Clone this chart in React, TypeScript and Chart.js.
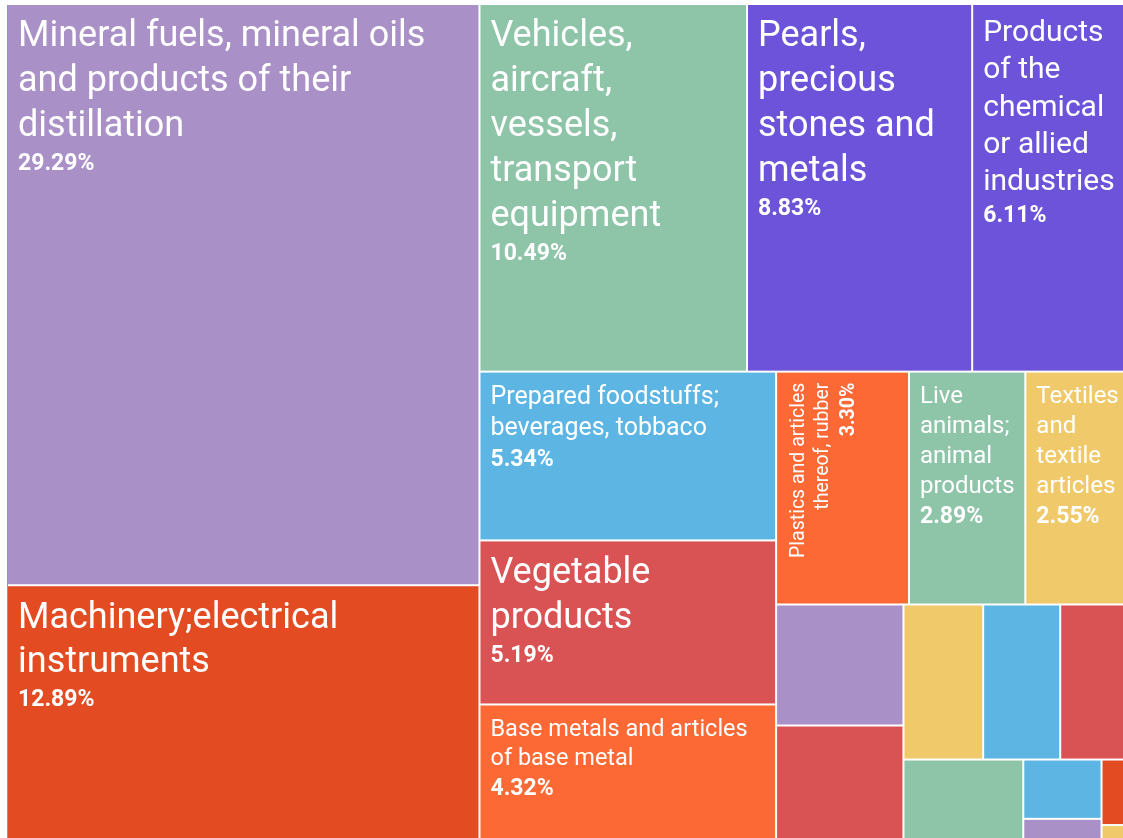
import { useEffect, useRef } from "react";
import { Chart, registerables } from "chart.js";

Chart.register(...registerables);

// ---------------- data ----------------
const categories: string[] = [
  "Mineral fuels, mineral oils and products of their distillation",
  "Machinery;electrical instruments",
  "Vehicles, aircraft, vessels, transport equipment",
  "Pearls, precious stones and metals",
  "Products of the chemical or allied industries",
  "Prepared foodstuffs; beverages, tobbaco",
  "Vegetable products",
  "Base metals and articles of base metal",
  "Plastics and articles thereof, rubber",
  "Live animals; animal products",
  "Textiles and textile articles",
  "Other 1",
  "Other 2",
  "Other 3",
  "Other 4",
  "Other 5",
  "Other 6",
  "Other 7",
  "Other 8",
  "Other 9",
  "Other 10",
];

// share of total, % (small unlabelled tiles estimated from their area)
const shares: number[] = [
  29.29, 12.89, 10.49, 8.83, 6.11, 5.34, 5.19, 4.32, 3.3, 2.89, 2.55,
  1.644, 1.569, 1.318, 1.274, 1.121, 1.041, 0.495, 0.185, 0.185, 0.045,
];

// ---------------- styles ----------------
const LAVENDER = "#a990c6";
const ORANGE_RED = "#e34c23";
const GREEN = "#8ec4a8";
const VIOLET = "#6c53d9";
const SKY = "#5db5e3";
const RED = "#d95254";
const ORANGE = "#fd6935";
const YELLOW = "#f0c96b";

const tileColors: string[] = [
  LAVENDER, ORANGE_RED, GREEN, VIOLET, VIOLET, SKY, RED, ORANGE, ORANGE, GREEN, YELLOW,
  LAVENDER, RED, YELLOW, SKY, RED, GREEN, SKY, LAVENDER, ORANGE_RED, YELLOW,
];

// label font size (px) per labelled tile; rotated = vertical label
const labelStyles: Record<string, { size: number; rotated?: boolean }> = {
  "Mineral fuels, mineral oils and products of their distillation": { size: 36 },
  "Machinery;electrical instruments": { size: 36 },
  "Vehicles, aircraft, vessels, transport equipment": { size: 36 },
  "Pearls, precious stones and metals": { size: 36 },
  "Products of the chemical or allied industries": { size: 30 },
  "Prepared foodstuffs; beverages, tobbaco": { size: 25 },
  "Vegetable products": { size: 36 },
  "Base metals and articles of base metal": { size: 23.5 },
  "Plastics and articles thereof, rubber": { size: 19.5, rotated: true },
  "Live animals; animal products": { size: 24 },
  "Textiles and textile articles": { size: 24 },
};

const CANVAS_W = 1128;
const CANVAS_H = 841;
const PAD_LEFT = 7;
const PAD_TOP = 4;
const TREE_W = CANVAS_W - PAD_LEFT;
const TREE_H = CANVAS_H - PAD_TOP;
const FONT = "Roboto, 'Noto Sans', 'DejaVu Sans', sans-serif";
const PHI = (1 + Math.sqrt(5)) / 2;

type Rect = { i: number; x0: number; y0: number; x1: number; y1: number };

// port of d3-hierarchy treemapSquarify (golden ratio)
function squarify(values: number[], x0: number, y0: number, x1: number, y1: number): Rect[] {
  const out: Rect[] = [];
  const n = values.length;
  let value = values.reduce((a, b) => a + b, 0);
  let i0 = 0;
  let i1 = 0;
  while (i0 < n) {
    const dx = x1 - x0;
    const dy = y1 - y0;
    let sumValue = values[i1++];
    let minValue = sumValue;
    let maxValue = sumValue;
    const alpha = Math.max(dy / dx, dx / dy) / (value * PHI);
    let beta = sumValue * sumValue * alpha;
    let minRatio = Math.max(maxValue / beta, beta / minValue);
    for (; i1 < n; ++i1) {
      const nv = values[i1];
      sumValue += nv;
      if (nv < minValue) minValue = nv;
      if (nv > maxValue) maxValue = nv;
      beta = sumValue * sumValue * alpha;
      const newRatio = Math.max(maxValue / beta, beta / minValue);
      if (newRatio > minRatio) {
        sumValue -= nv;
        break;
      }
      minRatio = newRatio;
    }
    if (dx < dy) {
      const yb = value ? y0 + (dy * sumValue) / value : y1;
      const k = (x1 - x0) / sumValue;
      let x = x0;
      for (let i = i0; i < i1; i++) {
        const nx = x + values[i] * k;
        out.push({ i, x0: x, y0, x1: nx, y1: yb });
        x = nx;
      }
      y0 = yb;
    } else {
      const xb = value ? x0 + (dx * sumValue) / value : x1;
      const k = (y1 - y0) / sumValue;
      let y = y0;
      for (let i = i0; i < i1; i++) {
        const ny = y + values[i] * k;
        out.push({ i, x0, y0: y, x1: xb, y1: ny });
        y = ny;
      }
      x0 = xb;
    }
    value -= sumValue;
    i0 = i1;
  }
  return out;
}

function wrap(ctx: CanvasRenderingContext2D, text: string, maxW: number): string[] {
  const words = text.split(" ");
  const lines: string[] = [];
  let cur = "";
  for (const w of words) {
    const test = cur ? cur + " " + w : w;
    if (cur && ctx.measureText(test).width > maxW) {
      lines.push(cur);
      cur = w;
    } else {
      cur = test;
    }
  }
  if (cur) lines.push(cur);
  return lines;
}

const treemapPlugin = {
  id: "treemapCells",
  afterDatasetsDraw(chart: any) {
    const ctx: CanvasRenderingContext2D = chart.ctx;
    const xs = chart.scales.x;
    const ys = chart.scales.y;
    const area = chart.chartArea;
    const rects = squarify(shares, 0, 0, TREE_W, TREE_H);

    ctx.save();
    // thin container border on the left
    ctx.fillStyle = "#5aa7dc";
    ctx.fillRect(area.left, area.top + 1, 1, area.bottom - area.top);

    for (const r of rects) {
      const px0 = xs.getPixelForValue(r.x0);
      const px1 = xs.getPixelForValue(r.x1);
      const py0 = ys.getPixelForValue(r.y0);
      const py1 = ys.getPixelForValue(r.y1);
      ctx.fillStyle = tileColors[r.i];
      ctx.fillRect(px0 + 1, py0 + 1, px1 - px0 - 2, py1 - py0 - 2);
    }

    for (const r of rects) {
      const name = categories[r.i];
      const st = labelStyles[name];
      if (!st) continue;
      const px0 = xs.getPixelForValue(r.x0);
      const px1 = xs.getPixelForValue(r.x1);
      const py0 = ys.getPixelForValue(r.y0);
      const py1 = ys.getPixelForValue(r.y1);
      const w = px1 - px0;
      const h = py1 - py0;
      const size = st.size;
      const pctSize = Math.min(23, size);
      const padX = 11;
      const lineH = size * 1.245;
      const first = 10 + size * 0.9;
      const pctGap = pctSize * 1.33 + Math.max(0, size - 25) * 0.3;
      const pct = shares[r.i].toFixed(2) + "%";

      ctx.save();
      ctx.fillStyle = "#ffffff";
      ctx.textBaseline = "alphabetic";
      if (st.rotated) {
        ctx.translate(px0, py0);
        ctx.rotate(-Math.PI / 2);
        ctx.textAlign = "right";
        ctx.font = `400 ${size}px ${FONT}`;
        const lines = wrap(ctx, name, h - 2 * padX);
        let v = first;
        lines.forEach((ln, k) => {
          if (k > 0) v += lineH;
          ctx.fillText(ln, -padX, v);
        });
        v += pctGap;
        ctx.font = `700 ${pctSize}px ${FONT}`;
        ctx.fillText(pct, -padX, v);
      } else {
        ctx.textAlign = "left";
        ctx.font = `400 ${size}px ${FONT}`;
        const lines = wrap(ctx, name, w - 2 * padX);
        let y = py0 + first;
        lines.forEach((ln, k) => {
          if (k > 0) y += lineH;
          ctx.fillText(ln, px0 + padX, y);
        });
        y += pctGap;
        ctx.font = `700 ${pctSize}px ${FONT}`;
        ctx.fillText(pct, px0 + padX, y);
      }
      ctx.restore();
    }
    ctx.restore();
  },
};

export default function App() {
  const ref = useRef<HTMLCanvasElement | null>(null);
  useEffect(() => {
    if (!ref.current) return;
    const chart = new Chart(ref.current, {
      type: "scatter",
      data: {
        datasets: [{ label: "Share of exports", data: [], pointRadius: 0 }],
      },
      options: {
        animation: false,
        responsive: false,
        devicePixelRatio: 1,
        layout: { padding: { left: PAD_LEFT, top: PAD_TOP, right: 0, bottom: 0 } },
        plugins: {
          legend: { display: false },
          tooltip: { enabled: false },
          title: { display: false },
        },
        scales: {
          x: { type: "linear", display: false, min: 0, max: TREE_W },
          y: { type: "linear", display: false, min: 0, max: TREE_H, reverse: true },
        },
      },
      plugins: [treemapPlugin],
    });
    return () => chart.destroy();
  }, []);
  return (
    <div
      style={{
        position: "fixed",
        left: 0,
        top: 0,
        width: CANVAS_W,
        height: CANVAS_H,
        background: "#ffffff",
      }}
    >
      <canvas
        ref={ref}
        width={CANVAS_W}
        height={CANVAS_H}
        style={{ display: "block", width: CANVAS_W, height: CANVAS_H }}
      />
    </div>
  );
}
